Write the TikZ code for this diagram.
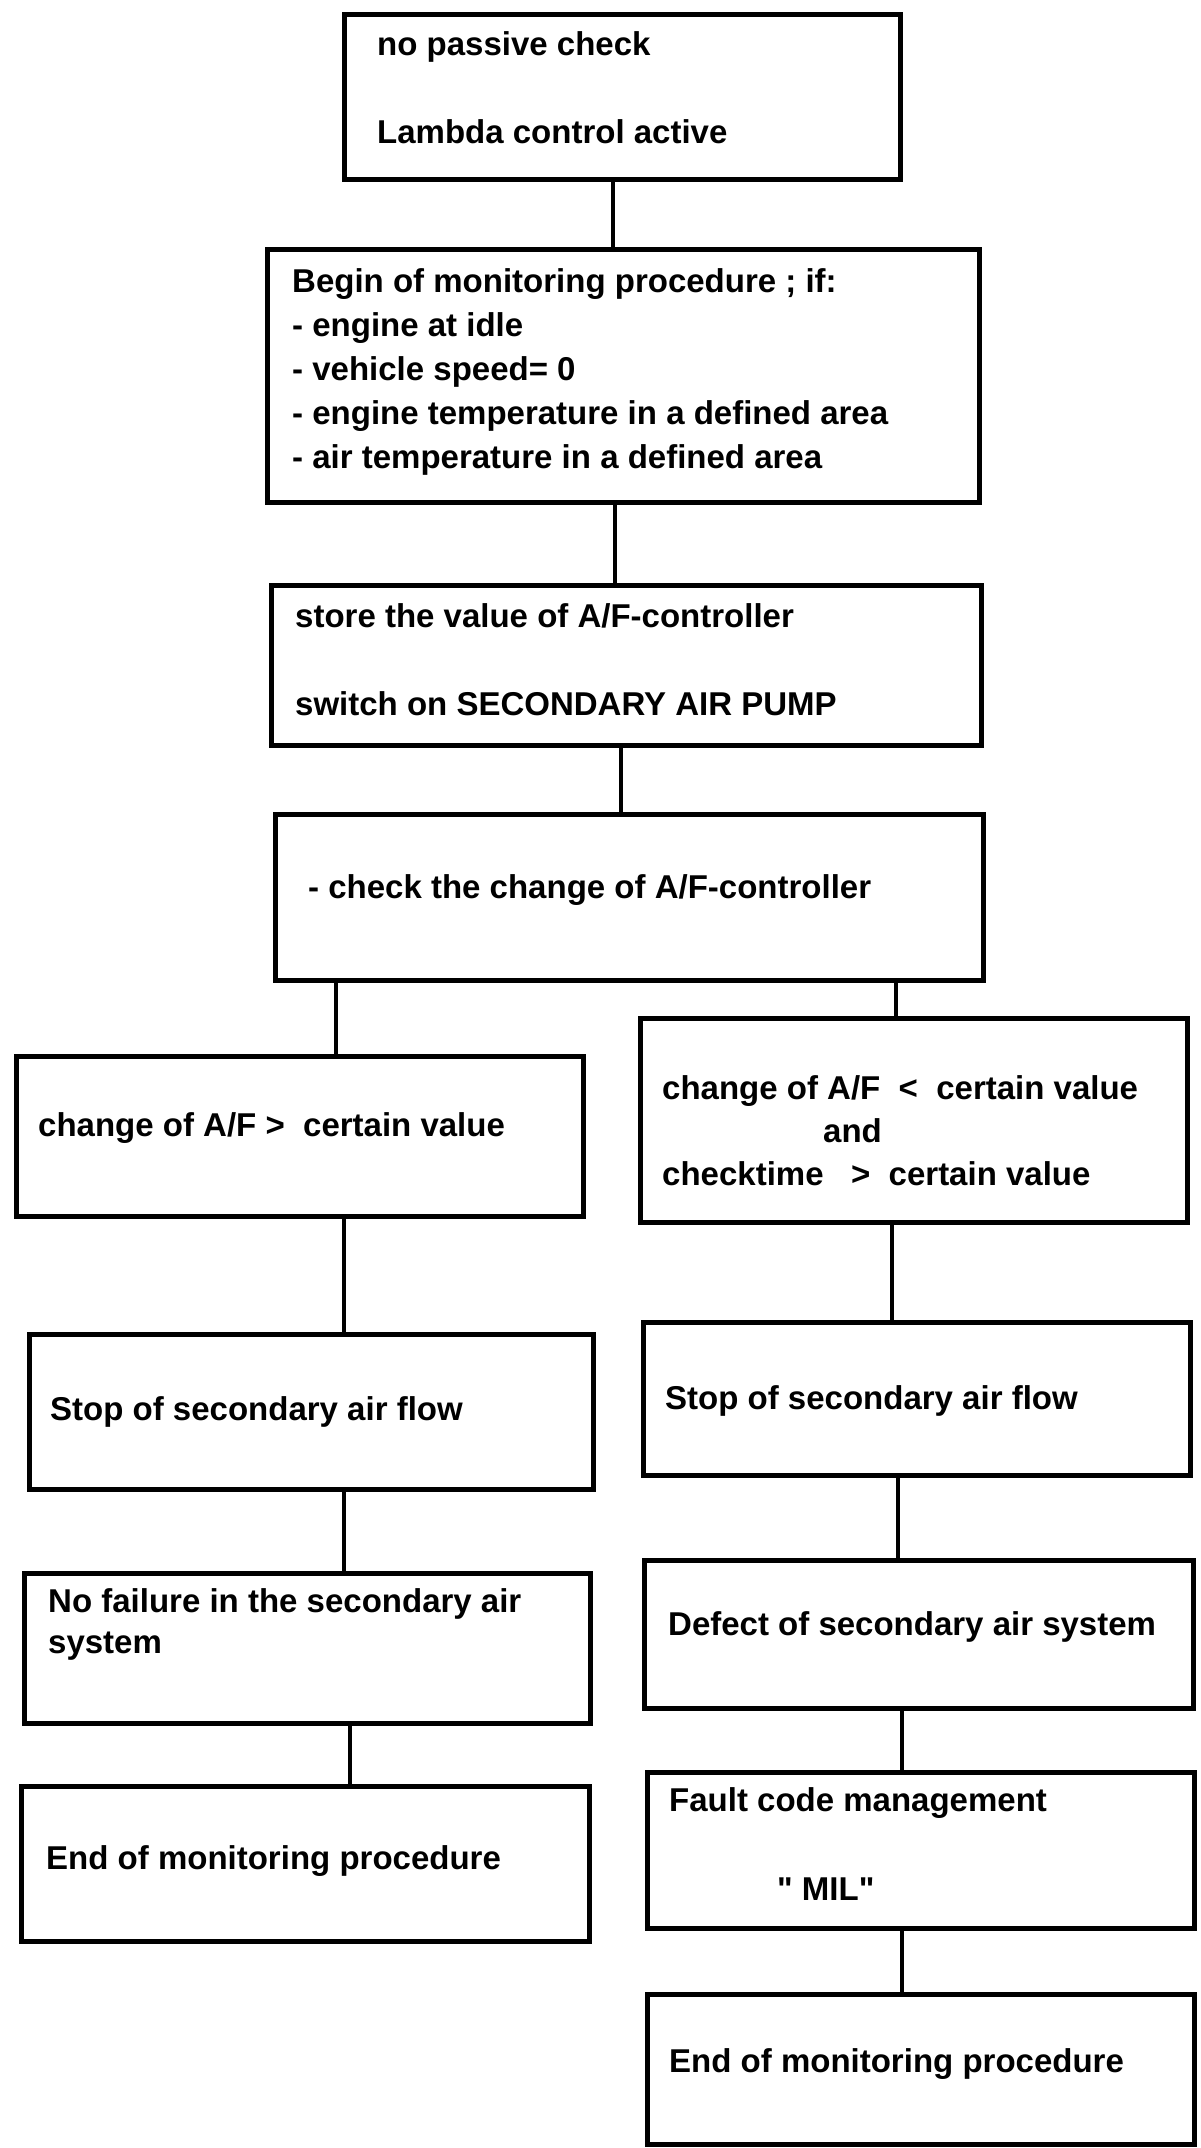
\documentclass[tikz,border=0pt]{standalone}
\usepackage{fontspec}
\setmainfont{Liberation Sans}
\newfontfamily\plainquote{Liberation Sans}[Ligatures=ResetAll]
\begin{document}
\begin{tikzpicture}[x=1pt,y=-1pt,
  box/.style={draw=black, line width=4.5pt, rectangle, inner sep=0pt, anchor=north west, fill=white},
  conn/.style={draw=black, line width=3.5pt},
  txt/.style={inner sep=0pt, anchor=base west, font=\fontsize{33}{44}\selectfont\bfseries}]
\useasboundingbox[fill=white] (0,0) rectangle (1200,2148);
% boxes
\node[box, minimum width=556pt, minimum height=165pt] (b1) at (342,12) {};
\node[box, minimum width=712pt, minimum height=253pt] (b2) at (265,247) {};
\node[box, minimum width=710pt, minimum height=160pt] (b3) at (269,583) {};
\node[box, minimum width=708pt, minimum height=166pt] (b4) at (273,812) {};
\node[box, minimum width=567pt, minimum height=160pt] (l1) at (14,1054) {};
\node[box, minimum width=547pt, minimum height=204pt] (r1) at (638,1016) {};
\node[box, minimum width=564pt, minimum height=155pt] (l2) at (27,1332) {};
\node[box, minimum width=547pt, minimum height=153pt] (r2) at (641,1320) {};
\node[box, minimum width=566pt, minimum height=150pt] (l3) at (22,1571) {};
\node[box, minimum width=549pt, minimum height=148pt] (r3) at (642,1558) {};
\node[box, minimum width=568pt, minimum height=155pt] (l4) at (19,1784) {};
\node[box, minimum width=547pt, minimum height=156pt] (r4) at (645,1770) {};
\node[box, minimum width=547pt, minimum height=150pt] (r5) at (645,1992) {};
% texts
\node[txt] (t1a) at (377,55) {no passive check};
\node[txt] (t1b) at (377,143) {Lambda control active};
\node[txt] (t2a) at (292,292) {Begin of monitoring procedure ; if:};
\node[txt] (t2b) at (292,336) {- engine at idle};
\node[txt] (t2c) at (292,380) {- vehicle speed= 0};
\node[txt] (t2d) at (292,424) {- engine temperature in a defined area};
\node[txt] (t2e) at (292,468) {- air temperature in a defined area};
\node[txt] (t3a) at (295,627) {store the value of A/F-controller};
\node[txt] (t3b) at (295,715) {switch on SECONDARY AIR PUMP};
\node[txt] (t4) at (308,898) {- check the change of A/F-controller};
\node[txt] (tl1) at (38,1136) {change of A/F >\ \ certain value};
\node[txt] (tr1a) at (662,1099) {change of A/F\ \ <\ \ certain value};
\node[txt] (tr1b) at (823,1142) {and};
\node[txt] (tr1c) at (662,1185) {checktime\ \ \ >\ \ certain value};
\node[txt] (tl2) at (50,1420) {Stop of secondary air flow};
\node[txt] (tr2) at (665,1409) {Stop of secondary air flow};
\node[txt] (tl3a) at (48,1612) {No failure in the secondary air};
\node[txt] (tl3b) at (48,1653) {system};
\node[txt] (tr3) at (668,1635) {Defect of secondary air system};
\node[txt] (tl4) at (46,1869) {End of monitoring procedure};
\node[txt] (tr4a) at (669,1811) {Fault code management};
\node[txt] (tr4b) at (777,1900) {\plainquote\bfseries " MIL"};
\node[txt] (tr5) at (669,2072) {End of monitoring procedure};
% connectors
\draw[conn] (613,0 |- b1.south) -- (613,0 |- b2.north);
\draw[conn] (615,0 |- b2.south) -- (615,0 |- b3.north);
\draw[conn] (621,0 |- b3.south) -- (621,0 |- b4.north);
\draw[conn] (336,0 |- b4.south) -- (336,0 |- l1.north);
\draw[conn] (896,0 |- b4.south) -- (896,0 |- r1.north);
\draw[conn] (344,0 |- l1.south) -- (344,0 |- l2.north);
\draw[conn] (892,0 |- r1.south) -- (892,0 |- r2.north);
\draw[conn] (344,0 |- l2.south) -- (344,0 |- l3.north);
\draw[conn] (898,0 |- r2.south) -- (898,0 |- r3.north);
\draw[conn] (350,0 |- l3.south) -- (350,0 |- l4.north);
\draw[conn] (902,0 |- r3.south) -- (902,0 |- r4.north);
\draw[conn] (902,0 |- r4.south) -- (902,0 |- r5.north);
\end{tikzpicture}
\end{document}
